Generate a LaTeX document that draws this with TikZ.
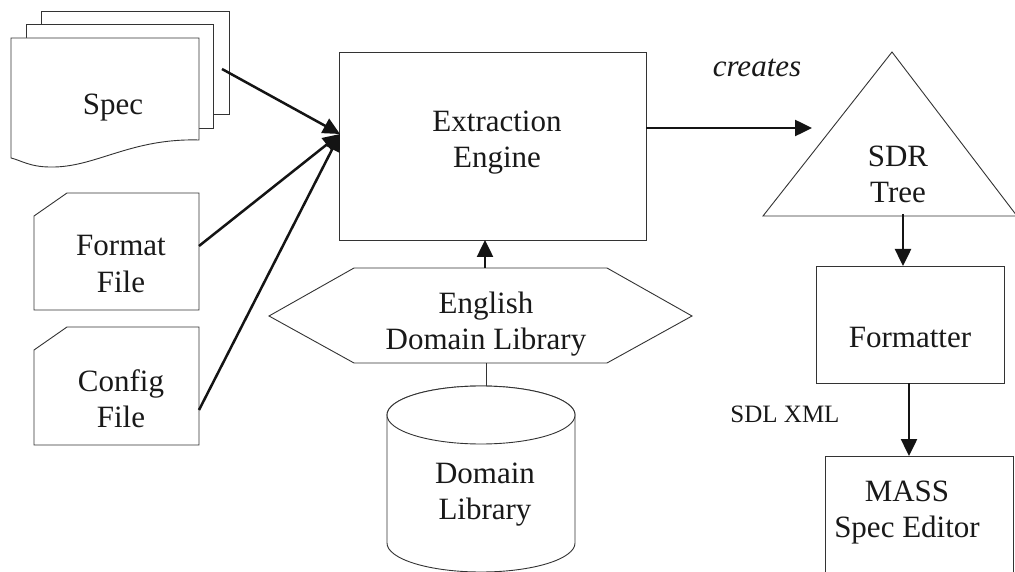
\documentclass[tikz,border=0pt]{standalone}
\usepackage{fontspec}
\setmainfont{Liberation Serif}
\usetikzlibrary{arrows.meta}
\begin{document}
\begin{tikzpicture}[x=1pt,y=-1pt,
  shp/.style={draw=black!80,line width=0.9pt,fill=white,line join=miter},
  arr/.style={draw=black!92,line width=2.5pt,-{Triangle[length=17pt,width=16pt]}},
  lbl/.style={font=\fontsize{31}{36}\selectfont,align=center,inner sep=0pt,anchor=base,text=black!90},
  thin/.style={draw=black!80,line width=0.9pt}]
\useasboundingbox (0,0) rectangle (1015,572);
\fill[white] (0,0) rectangle (1015,572);
% Spec stack
\path[shp] (41,11) -- (229,11) -- (229,114) -- (41,114) -- cycle;
\path[shp] (26,24) -- (213,24) -- (213,128) -- (26,128) -- cycle;
\path[shp] (11,38) -- (199,38) -- (199,140) .. controls (130,138) and (95,168) .. (50,167) .. controls (30,167) and (20,160) .. (11,158) -- cycle;
\node[lbl] (spec) at (113,115) {Spec};
\coordinate (specOut) at (222,69);
% Format file
\path[shp] (34,216) -- (67,193) -- (199,193) -- (199,310) -- (34,310) -- cycle;
\node[lbl] (fmt) at (121,292) {Format\\File};
\coordinate (fmtOut) at (199,246);
% Config file
\path[shp] (34,350) -- (67,327) -- (199,327) -- (199,445) -- (34,445) -- cycle;
\node[lbl] (cfg) at (121,427) {Config\\File};
\coordinate (cfgOut) at (199,410);
% Extraction engine
\path[shp] (339,52) rectangle (646,240);
\node[lbl] (ee) at (497,168) {Extraction\\Engine};
\coordinate (eeIn) at (340,134);
\coordinate (eeOut) at (646,128);
\coordinate (eeBot) at (485,240);
% Hexagon
\path[shp] (269,316) -- (354,268) -- (607,268) -- (692,316) -- (607,363) -- (354,363) -- cycle;
\node[lbl] (edl) at (486,349) {English\\Domain Library};
\coordinate (edlTop) at (485,268);
\coordinate (edlBot) at (486,363);
% Cylinder
\path[shp] (387,415) -- (387,543) arc[start angle=180,end angle=0,x radius=94,y radius=29] -- (575,415) arc[start angle=0,end angle=-180,x radius=94,y radius=29];
\path[shp] (481,415) ellipse[x radius=94,y radius=29];
\node[lbl] (dl) at (485,519) {Domain\\Library};
\coordinate (dlTop) at (486,386);
% SDR tree
\path[shp] (763,216) -- (892,52) -- (1017,216) -- cycle;
\node[lbl] (sdr) at (898,203) {SDR\\Tree};
\coordinate (sdrIn) at (812,128);
\coordinate (sdrBot) at (903,214);
% Formatter
\path[shp] (816,266) rectangle (1004,383);
\node[lbl] (fmtr) at (910,347) {Formatter};
\coordinate (fmtrTop) at (903,266);
\coordinate (fmtrBot) at (909,383);
% MASS
\path[shp] (825,456) rectangle (1013,580);
\node[lbl] (mass) at (907,537) {MASS\\Spec Editor};
\coordinate (massTop) at (909,456);
% labels
\node[font=\fontsize{31}{36}\selectfont\itshape,inner sep=0pt,anchor=base,text=black!90] (cr) at (757,77) {creates};
\node[font=\fontsize{25}{30}\selectfont,inner sep=0pt,anchor=base,text=black!90] (sdl) at (785,422) {SDL XML};
% connectors
\draw[arr] (specOut) -- (eeIn);
\draw[arr] (fmtOut) -- (eeIn);
\draw[arr] (cfgOut) -- (eeIn);
\draw[arr] (eeOut) -- (sdrIn);
\draw[arr] (edlTop) -- (eeBot);
\draw[thin] (edlBot) -- (dlTop);
\draw[arr] (sdrBot) -- (fmtrTop);
\draw[arr] (fmtrBot) -- (massTop);
\end{tikzpicture}
\end{document}
